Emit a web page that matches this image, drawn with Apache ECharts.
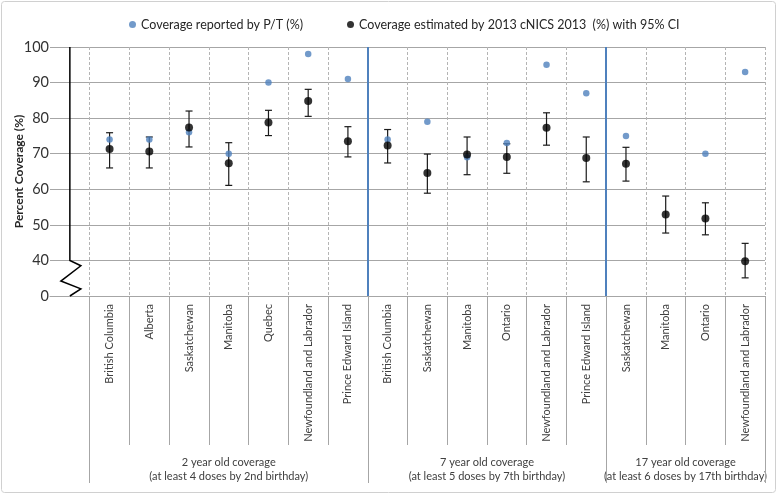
<!DOCTYPE html>
<html><head><meta charset="utf-8">
<script src="https://cdn.jsdelivr.net/npm/echarts@6/dist/echarts.min.js"></script>
<style>html,body{margin:0;padding:0;background:#fff}#c{width:778px;height:494px}</style>
</head><body><div id="c"></div>
<script>
// ---- data ----
const categories = ['', 'British Columbia', 'Alberta', 'Saskatchewan', 'Manitoba', 'Quebec',
  'Newfoundland and Labrador', 'Prince Edward Island',
  'British Columbia', 'Saskatchewan', 'Manitoba', 'Ontario', 'Newfoundland and Labrador', 'Prince Edward Island',
  'Saskatchewan', 'Manitoba', 'Ontario', 'Newfoundland and Labrador'];
const reported  = [null, 74, 74, 76, 70, 90, 98, 91, 74, 79, 69, 73, 95, 87, 75, null, 70, 93];
const estimated = [null, 71.3, 70.6, 77.4, 67.3, 78.8, 84.8, 73.5, 72.3, 64.6, 69.8, 69.1, 77.3, 68.8, 67.2, 52.9, 51.8, 39.8];
const ciLow     = [null, 66.0, 66.0, 71.9, 61.1, 75.1, 80.5, 69.1, 67.4, 58.9, 64.1, 64.5, 72.4, 62.1, 62.3, 47.7, 47.2, 35.1];
const ciHigh    = [null, 75.9, 74.7, 82.0, 73.1, 82.2, 88.1, 77.6, 76.8, 69.9, 74.7, 72.8, 81.5, 74.7, 71.8, 58.1, 56.2, 44.8];
const groupLabels = ['2 year old coverage\n(at least 4 doses by 2nd birthday)',
  '7 year old coverage\n(at least 5 doses by 7th birthday)',
  '17 year old coverage\n(at least 6 doses by 17th birthday)'];
const groupSizes = [7, 6, 4];
const seriesNames = ['Coverage reported by P/T (%)', 'Coverage estimated by 2013 cNICS 2013  (%) with 95% CI'];
const yAxisName = 'Percent Coverage (%)';
const yMin = 30, yMax = 100, yStep = 10, yBreakTop = 40, yBreakLabel = '0';

// ---- derived ----
const groupStarts = [];
let s = 1;
groupSizes.forEach(n => { groupStarts.push(s); s += n; });
const groupAxisData = new Array(2 * categories.length + 1).fill('');
groupStarts.forEach((st, i) => { groupAxisData[2 * st + groupSizes[i]] = groupLabels[i]; });

const FONT = 'Lato';
const chart = echarts.init(document.getElementById('c'), null, {renderer: 'canvas'});
chart.setOption({
  animation: false,
  textStyle: {fontFamily: FONT},
  graphic: [{type: 'rect', shape: {x: 1.5, y: 1.5, width: 774, height: 491, r: 3},
    style: {fill: 'none', stroke: '#d0d0d0', lineWidth: 1}, silent: true}],
  legend: {
    data: seriesNames, left: 124, top: 13, icon: 'circle', itemWidth: 7, itemHeight: 7, itemGap: 44,
    textStyle: {fontSize: 12.5, color: '#262626', fontFamily: FONT}
  },
  grid: {left: 50, right: 13, top: 47, bottom: 198, containLabel: false, outerBoundsMode: 'none'},
  xAxis: [
    {
      type: 'category', data: categories, position: 'bottom', boundaryGap: true,
      axisLine: {show: true, lineStyle: {color: '#a6a6a6'}},
      axisTick: {show: true, interval: (i) => i !== 0, length: 149, lineStyle: {color: '#a6a6a6'}},
      axisLabel: {interval: 0, rotate: 90, margin: 8, fontSize: 11, color: '#404040', fontFamily: FONT},
      splitLine: {show: true, interval: (i) => i !== 0, lineStyle: {color: '#b4b4b4', type: [3, 2]}}
    },
    {
      type: 'category', data: categories, position: 'bottom', boundaryGap: true, z: 3,
      axisLine: {show: false}, axisLabel: {show: false},
      axisTick: {show: true, interval: (i) => groupStarts.indexOf(i) >= 0, length: 187, lineStyle: {color: '#a6a6a6'}},
      splitLine: {show: true, showMaxLine: false,
        interval: (i) => groupStarts.indexOf(i) > 0,
        lineStyle: {color: '#4f81bd', width: 2}}
    },
    {
      type: 'category', data: groupAxisData, position: 'bottom', boundaryGap: false,
      axisLine: {show: false}, axisTick: {show: false}, splitLine: {show: false},
      axisLabel: {interval: 0, margin: 159, fontSize: 11, lineHeight: 14, color: '#404040', align: 'center', fontFamily: FONT}
    }
  ],
  yAxis: {
    type: 'value', min: yMin, max: yMax, interval: yStep,
    axisLine: {show: false}, axisTick: {show: false},
    axisLabel: {formatter: (v) => v === yMin ? yBreakLabel : String(v), fontSize: 14.5, color: '#333', margin: 1, fontFamily: FONT},
    splitLine: {lineStyle: {color: '#a6a6a6'}},
    name: yAxisName, nameLocation: 'middle', nameGap: 25, nameMoveOverlap: false,
    nameTextStyle: {fontWeight: 'bold', fontSize: 12, color: '#262626', fontFamily: FONT}
  },
  series: [
    {
      type: 'custom', silent: true, z: 5,
      data: [[0, yMax, yBreakTop, yMin]],
      encode: {x: 0, y: [1, 2, 3]},
      renderItem: (params, api) => {
        const top = api.coord([api.value(0), api.value(1)]);
        const brk = api.coord([api.value(0), api.value(2)]);
        const bot = api.coord([api.value(0), api.value(3)]);
        const x = top[0], h = bot[1] - brk[1];
        return {type: 'polyline', shape: {points: [
          top, brk, [x + 11, brk[1] + h * 0.15], [x - 9, brk[1] + h * 0.58], [x + 11, brk[1] + h * 0.8], [x, bot[1]]
        ]}, style: {stroke: '#000', lineWidth: 1.5, fill: 'none'}};
      }
    },
    {
      type: 'custom', silent: true, z: 2,
      data: estimated.map((v, i) => [i, ciLow[i], ciHigh[i]]).filter(d => d[1] != null),
      encode: {x: 0, y: [1, 2]},
      renderItem: (params, api) => {
        const lo = api.coord([api.value(0), api.value(1)]);
        const hi = api.coord([api.value(0), api.value(2)]);
        const w = 3.5, st = {stroke: '#1a1a1a', lineWidth: 1.2};
        return {type: 'group', children: [
          {type: 'line', shape: {x1: lo[0], y1: lo[1], x2: hi[0], y2: hi[1]}, style: st},
          {type: 'line', shape: {x1: lo[0] - w, y1: lo[1], x2: lo[0] + w, y2: lo[1]}, style: st},
          {type: 'line', shape: {x1: hi[0] - w, y1: hi[1], x2: hi[0] + w, y2: hi[1]}, style: st}
        ]};
      }
    },
    {
      name: seriesNames[0], type: 'scatter', z: 3, symbolSize: 6.5,
      itemStyle: {color: '#4f81bd'},
      data: reported.map((v, i) => [i, v]).filter(d => d[1] != null)
    },
    {
      name: seriesNames[1], type: 'scatter', z: 4, symbolSize: 8,
      itemStyle: {color: '#000'},
      data: estimated.map((v, i) => [i, v]).filter(d => d[1] != null)
    }
  ]
});
</script></body></html>
